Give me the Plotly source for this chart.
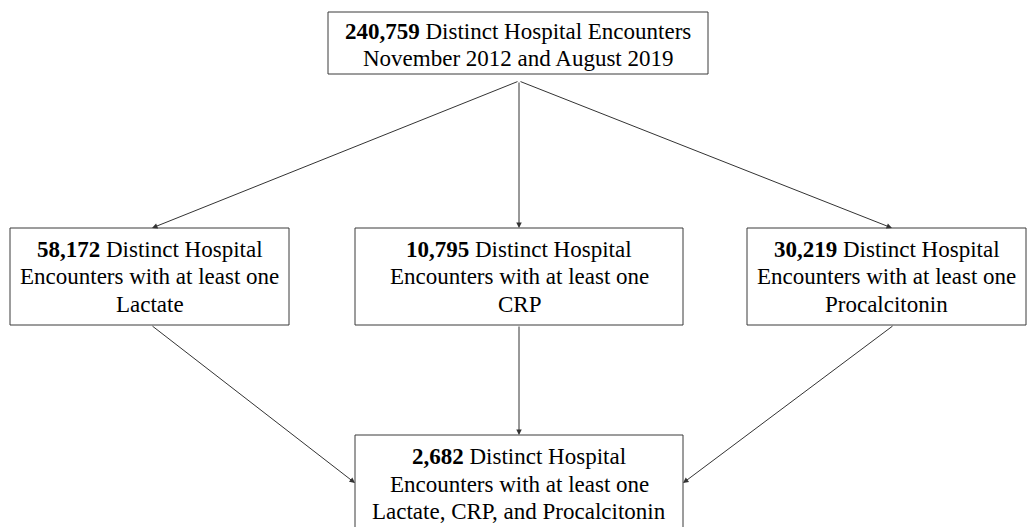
import plotly.graph_objects as go

# ---- data ----
counts = ["240,759", "58,172", "10,795", "30,219", "2,682"]
line1_rest = ["Distinct Hospital Encounters", "Distinct Hospital", "Distinct Hospital",
              "Distinct Hospital", "Distinct Hospital"]
other_lines = [
    ["November 2012 and August 2019"],
    ["Encounters with at least one", "Lactate"],
    ["Encounters with at least one", "CRP"],
    ["Encounters with at least one", "Procalcitonin"],
    ["Encounters with at least one", "Lactate, CRP, and Procalcitonin"],
]
# box geometry (pixel space)
boxes = [
    (328, 12, 708, 74),
    (10, 228, 289, 325),
    (355, 228, 683, 325),
    (747, 228, 1026, 325),
    (355, 435, 683, 535),
]
line_y = [
    [31, 58],
    [249, 276, 304],
    [249, 276, 304],
    [249, 276, 304],
    [456, 484, 511],
]
# arrows: (tail_x, tail_y, head_x, head_y)
arrows = [
    (519, 81, 152, 228),
    (519, 81, 519, 228),
    (519, 81, 892, 228),
    (151, 325, 355, 483),
    (519, 325, 519, 435),
    (894, 325, 683, 483),
]

fig = go.Figure()
font = dict(family="Liberation Serif, Times New Roman, serif", size=23, color="black")

shapes = []
annotations = []
for i, (x0, y0, x1, y1) in enumerate(boxes):
    shapes.append(dict(type="rect", x0=x0, y0=y0, x1=x1, y1=y1, xref="x", yref="y",
                       line=dict(color="#3a3a3a", width=1), fillcolor="white", layer="below"))
    cx = (x0 + x1) / 2
    texts = [f"<b>{counts[i]}</b> {line1_rest[i]}"] + other_lines[i]
    for t, yy in zip(texts, line_y[i]):
        annotations.append(dict(x=cx, y=yy, xref="x", yref="y", text=t, showarrow=False,
                                font=font, xanchor="center", yanchor="middle"))

for tx, ty, hx, hy in arrows:
    annotations.append(dict(x=hx, y=hy, ax=tx, ay=ty, xref="x", yref="y", axref="x", ayref="y",
                            text="", showarrow=True, arrowhead=2, arrowsize=1.1, arrowwidth=1,
                            arrowcolor="#333333", standoff=0, startstandoff=0))

fig.update_layout(
    width=1028, height=527,
    margin=dict(l=0, r=0, t=0, b=0),
    paper_bgcolor="white", plot_bgcolor="white",
    xaxis=dict(range=[0, 1028], visible=False, fixedrange=True),
    yaxis=dict(range=[527, 0], visible=False, fixedrange=True),
    shapes=shapes, annotations=annotations, showlegend=False,
)
fig.write_html("out.html",
               post_script="document.body.style.margin='0';document.body.style.overflow='hidden';",
               config={"displayModeBar": False})
